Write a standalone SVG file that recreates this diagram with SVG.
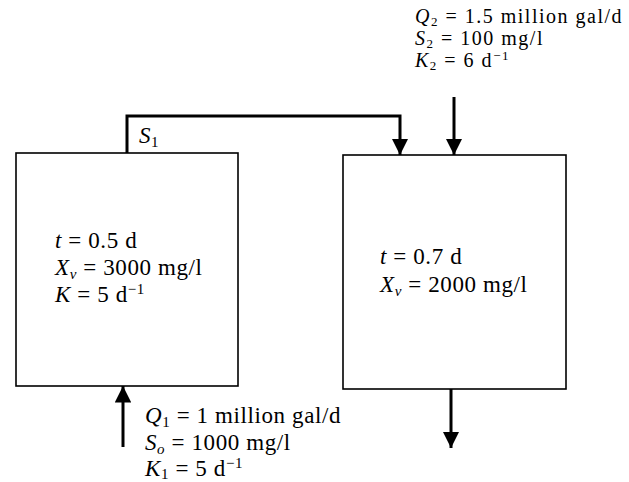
<svg xmlns="http://www.w3.org/2000/svg" width="629" height="482" viewBox="0 0 629 482">
<defs>
<marker id="ah" viewBox="0 0 10 10" refX="10" refY="5" markerWidth="5.5" markerHeight="5.5" markerUnits="strokeWidth" orient="auto">
<path d="M0,0 L10,5 L0,10 z" fill="#000"/>
</marker>
<style>
.box{fill:#fff;stroke:#000;stroke-width:1.6}
.con{fill:none;stroke:#000;stroke-width:3;marker-end:url(#ah)}
text{font-family:"Liberation Serif","Times New Roman",serif;font-size:23px;letter-spacing:0.6px;fill:#000}
.i{font-style:italic}
.s{font-size:15px}
.top{font-size:20px;letter-spacing:1.5px}
.top .s{font-size:13px}
</style>
</defs>
<rect width="629" height="482" fill="#fff"/>
<g id="reactor1">
<rect class="box" x="16" y="153" width="222" height="233"/>
<text x="55" y="248"><tspan class="i">t</tspan> = 0.5 d</text>
<text x="55" y="275"><tspan class="i">X</tspan><tspan class="i s" dy="4">v</tspan><tspan dy="-4"> = 3000 mg/l</tspan></text>
<text x="55" y="302"><tspan class="i">K</tspan> = 5 d<tspan class="s" dy="-8">−1</tspan></text>
</g>
<g id="reactor2">
<rect class="box" x="343" y="155" width="223" height="234"/>
<text x="380" y="264"><tspan class="i">t</tspan> = 0.7 d</text>
<text x="380" y="292"><tspan class="i">X</tspan><tspan class="i s" dy="4">v</tspan><tspan dy="-4"> = 2000 mg/l</tspan></text>
</g>
<g id="feed2">
<text class="top" x="415" y="23"><tspan class="i">Q</tspan><tspan class="s" dy="3">2</tspan><tspan dy="-3"> = 1.5 million gal/d</tspan></text>
<text class="top" x="415" y="45"><tspan class="i">S</tspan><tspan class="s" dy="3">2</tspan><tspan dy="-3"> = 100 mg/l</tspan></text>
<text class="top" x="415" y="67"><tspan class="i">K</tspan><tspan class="s" dy="3">2</tspan><tspan dy="-3"> = 6 d</tspan><tspan class="s" dy="-7">−1</tspan></text>
</g>
<g id="feed1">
<text x="145" y="423"><tspan class="i">Q</tspan><tspan class="s" dy="4">1</tspan><tspan dy="-4"> = 1 million gal/d</tspan></text>
<text x="145" y="450"><tspan class="i">S</tspan><tspan class="i s" dy="4">o</tspan><tspan dy="-4"> = 1000 mg/l</tspan></text>
<text x="145" y="476"><tspan class="i">K</tspan><tspan class="s" dy="3">1</tspan><tspan dy="-3"> = 5 d</tspan><tspan class="s" dy="-8">−1</tspan></text>
</g>
<g id="s1label">
<text x="139" y="143"><tspan class="i">S</tspan><tspan class="s" dy="4">1</tspan></text>
</g>
<g id="connectors">
<path class="con" d="M127,153 V116 H400 V155"/>
<path class="con" d="M454,97 V155"/>
<path class="con" d="M123,447 V386"/>
<path class="con" d="M451,389 V448"/>
</g>
</svg>
